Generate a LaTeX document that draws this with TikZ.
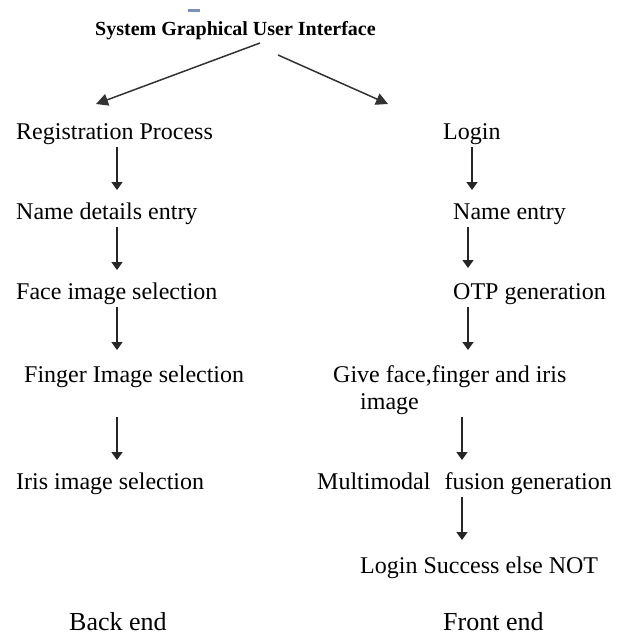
\documentclass[tikz,border=0pt]{standalone}
\usepackage{fontspec}
\setmainfont{Liberation Serif}
\usetikzlibrary{arrows.meta,calc}
\definecolor{barblue}{RGB}{125,145,185}
\begin{document}
\begin{tikzpicture}[x=1pt,y=-1pt,
  lbl/.style={anchor=base west,inner sep=0pt,font=\fontsize{24}{28}\selectfont},
  foot/.style={anchor=base west,inner sep=0pt,font=\fontsize{26}{30}\selectfont},
  ttl/.style={anchor=base west,inner sep=0pt,font=\fontsize{20}{24}\selectfont\bfseries},
  arr/.style={line width=1.5pt,draw=black!85,-{Triangle[width=11pt,length=8pt]}},
  bigarr/.style={line width=1.5pt,draw=black!80,-{Triangle[width=12pt,length=12pt]}}]
\useasboundingbox (0,0) rectangle (618,635);
\fill[barblue] (188,9) rectangle (200,12);
\node[ttl] (title) at (95,35) {System Graphical User Interface};
% left column
\node[lbl] (reg) at (16,139) {Registration Process};
\node[lbl] (nde) at (16,219) {Name details entry};
\node[lbl] (face) at (16,299) {Face image selection};
\node[lbl] (fing) at (24,382) {Finger Image selection};
\node[lbl] (iris) at (16,489) {Iris image selection};
\node[foot] (back) at (69,630) {Back end};
% right column
\node[lbl] (login) at (443,139) {Login};
\node[lbl] (ne) at (453,219) {Name entry};
\node[lbl] (otp) at (453,299) {OTP generation};
\node[lbl] (give) at (333,382) {Give face,finger and iris};
\node[lbl] (img) at (360,409) {image};
\node[lbl] (multi) at (317,489) {Multimodal\hspace{14pt}fusion generation};
\node[lbl] (succ) at (360,573) {Login Success else NOT};
\node[foot] (front) at (443,630) {Front end};
% x guides
\coordinate (xl) at (117,0);
\coordinate (xr1) at (472,0);
\coordinate (xr2) at (468,0);
\coordinate (xr3) at (462,0);
% title arrows
\draw[bigarr] ($(title.base west)+(165,8)$) -- ($(reg.base west)+(80,-35)$);
\draw[bigarr] ($(title.base west)+(183,20)$) -- ($(login.base west)+(-55,-35)$);
% left arrows
\draw[arr] ($(reg.base -| xl)+(0,8)$) -- ($(nde.base -| xl)+(0,-29)$);
\draw[arr] ($(nde.base -| xl)+(0,8)$) -- ($(face.base -| xl)+(0,-29)$);
\draw[arr] ($(face.base -| xl)+(0,8)$) -- ($(fing.base -| xl)+(0,-32)$);
\draw[arr] ($(fing.base -| xl)+(0,35)$) -- ($(iris.base -| xl)+(0,-29)$);
% right arrows
\draw[arr] ($(login.base -| xr1)+(0,8)$) -- ($(ne.base -| xr1)+(0,-29)$);
\draw[arr] ($(ne.base -| xr2)+(0,8)$) -- ($(otp.base -| xr2)+(0,-31)$);
\draw[arr] ($(otp.base -| xr2)+(0,8)$) -- ($(give.base -| xr2)+(0,-32)$);
\draw[arr] ($(img.base -| xr3)+(0,8)$) -- ($(multi.base -| xr3)+(0,-29)$);
\draw[arr] ($(multi.base -| xr3)+(0,8)$) -- ($(succ.base -| xr3)+(0,-33)$);
\end{tikzpicture}
\end{document}
